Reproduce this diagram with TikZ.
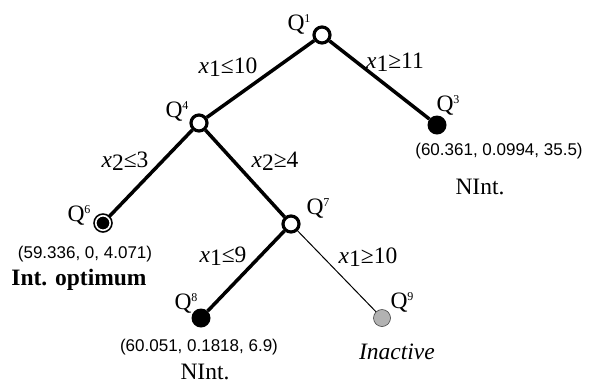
\documentclass[tikz,border=0pt]{standalone}
\usepackage{fontspec}
\setmainfont{Liberation Serif}
\newfontfamily\tuplefont{Liberation Sans}
\begin{document}
\begin{tikzpicture}[x=1pt,y=-1pt,
  openstate/.style={circle,draw=black,line width=3.2pt,fill=white,minimum size=16pt,inner sep=0pt},
  intstate/.style={circle,fill=black,minimum size=19pt,inner sep=0pt},
  optstate/.style={circle,draw=black,line width=1.7pt,double=white,double distance=1.6pt,fill=black,minimum size=14.5pt,inner sep=0pt},
  idlestate/.style={circle,draw=black!75,line width=0.6pt,fill=black!30,minimum size=17pt,inner sep=0pt},
  branch/.style={line width=3.5pt},
  thinbranch/.style={line width=1pt},
  lbl/.style={inner sep=0pt,font=\fontsize{23.5}{26}\selectfont},
  tuple/.style={inner sep=0pt,font=\tuplefont\fontsize{17}{20}\selectfont},
  cond/.style={inner sep=0pt,font=\fontsize{23.5}{26}\selectfont}
]
\useasboundingbox (0,0) rectangle (599,384);

% tree nodes
\node[openstate] (q1) at (322,35) {};
\node[openstate] (q4) at (199,123) {};
\node[intstate]  (q3) at (437,125) {};
\node[optstate]  (q6) at (103,223) {};
\node[openstate] (q7) at (291,224) {};
\node[intstate]  (q8) at (201,318) {};
\node[idlestate] (q9) at (382,318) {};

% branches
\draw[branch] (q1) -- (q4);
\draw[branch] (q1) -- (q3);
\draw[branch] (q4) -- (q6);
\draw[branch] (q4) -- (q7);
\draw[branch] (q7) -- (q8);
\draw[thinbranch] (q7) -- (q9);

% node names with a small raised index
\newcommand{\qn}[1]{Q\raisebox{8pt}{\fontsize{12}{12}\selectfont #1}}
\node[lbl] (n1) at (299,24) {\qn{1}};
\node[lbl] (n4) at (177,111) {\qn{4}};
\node[lbl] (n3) at (448,105) {\qn{3}};
\node[lbl] (n6) at (79,215) {\qn{6}};
\node[lbl] (n7) at (318,208) {\qn{7}};
\node[lbl] (n8) at (186,303) {\qn{8}};
\node[lbl] (n9) at (402,302) {\qn{9}};

% branching conditions
\newcommand{\xv}[1]{\textit{x}\raisebox{-3pt}{#1}}
\node[cond] (c1) at (228,67) {\xv{1}≤10};
\node[cond] (c2) at (395,62) {\xv{1}≥11};
\node[cond] (c3) at (125,161) {\xv{2}≤3};
\node[cond] (c4) at (275,161) {\xv{2}≥4};
\node[cond] (c5) at (223,256) {\xv{1}≤9};
\node[cond] (c6) at (368,257) {\xv{1}≥10};

% solution values and status
\node[tuple] (t3) at (499,151) {(60.361, 0.0994, 35.5)};
\node[lbl]   (s3) at (480,187) {NInt.};
\node[tuple] (t6) at (85,254) {(59.336, 0, 4.071)};
\node[lbl]   (s6) at (79,280) {\textbf{Int. optimum}};
\node[tuple] (t8) at (199,347) {(60.051, 0.1818, 6.9)};
\node[lbl]   (s8) at (205,372) {NInt.};
\node[lbl]   (s9) at (397,352) {\textit{Inactive}};
\end{tikzpicture}
\end{document}
